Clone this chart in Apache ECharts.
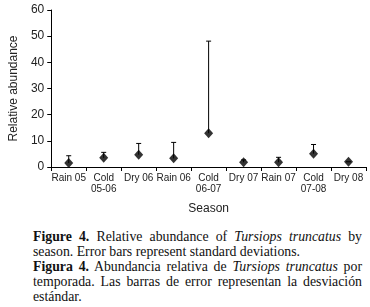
<!DOCTYPE html>
<html>
<head>
<meta charset="utf-8">
<script src="https://cdn.jsdelivr.net/npm/echarts@6/dist/echarts.min.js"></script>
<style>
  html, body { margin: 0; padding: 0; background: #fff; }
  #wrap { position: relative; width: 370px; height: 307px; overflow: hidden; }
  #main { position: absolute; left: 0; top: 0; width: 370px; height: 220px; }
  #cap {
    position: absolute; left: 33px; top: 229px; width: 329px;
    font-family: "Liberation Serif", "DejaVu Serif", serif;
    font-size: 13.8px; line-height: 15px; color: #111; text-align: justify;
  }
  #cap p { margin: 0; }
</style>
</head>
<body>
<div id="wrap">
  <div id="main"></div>
  <div id="cap">
    <p><b>Figure 4.</b> Relative abundance of <i>Tursiops truncatus</i> by season. Error bars represent standard deviations.</p>
    <p><b>Figura 4.</b> Abundancia relativa de <i>Tursiops truncatus</i> por temporada. Las barras de error representan la desviación estándar.</p>
  </div>
</div>
<script>
// seasons and values
var seasons = ['Rain 05', 'Cold\n05-06', 'Dry 06', 'Rain 06', 'Cold\n06-07', 'Dry 07', 'Rain 07', 'Cold\n07-08', 'Dry 08'];
var meanAbund = [1.5, 3.5, 4.7, 3.3, 12.9, 1.8, 1.8, 5.1, 2.0];
var sdAbund = [2.8, 2.1, 4.3, 6.1, 35.2, 0.9, 1.9, 3.5, 0];
var yTicks = [0, 10, 20, 30, 40, 50, 60];

var myChart = echarts.init(document.getElementById('main'));

var errData = [];
for (var i = 0; i < seasons.length; i++) {
    errData.push([i, meanAbund[i], meanAbund[i] + sdAbund[i]]);
}

var option = {
    animation: false,
    grid: { left: 41, right: 4, top: 10, height: 158 },
    textStyle: { fontFamily: 'Liberation Sans, Arial, sans-serif' },
    xAxis: {
        type: 'category',
        data: seasons,
        name: 'Season',
        nameLocation: 'middle',
        nameGap: 36,
        nameTextStyle: { fontSize: 12, color: '#222' },
        axisLine: { lineStyle: { color: '#000', width: 1 } },
        axisTick: { show: true, length: 4, lineStyle: { color: '#000' } },
        axisLabel: { interval: 0, fontSize: 10, color: '#222', margin: 6, lineHeight: 11 },
        splitLine: { show: false }
    },
    yAxis: {
        type: 'value',
        min: yTicks[0],
        max: yTicks[yTicks.length - 1],
        interval: 10,
        name: 'Relative abundance',
        nameLocation: 'middle',
        nameGap: 29,
        nameTextStyle: { fontSize: 12, color: '#222' },
        axisLine: { show: true, lineStyle: { color: '#000', width: 1 } },
        axisTick: { show: true, length: 4, lineStyle: { color: '#000' } },
        axisLabel: { fontSize: 12, color: '#222', margin: 7 },
        splitLine: { show: false }
    },
    series: [
        {
            // upper error bars
            type: 'custom',
            data: errData,
            z: 1,
            renderItem: function (params, api) {
                var lo = api.coord([api.value(0), api.value(1)]);
                var hi = api.coord([api.value(0), api.value(2)]);
                var st = { stroke: '#000', lineWidth: 1 };
                return {
                    type: 'group',
                    children: [
                        { type: 'line', shape: { x1: lo[0], y1: lo[1], x2: hi[0], y2: hi[1] }, style: st },
                        { type: 'line', shape: { x1: hi[0] - 2.5, y1: hi[1], x2: hi[0] + 2.5, y2: hi[1] }, style: st }
                    ]
                };
            }
        },
        {
            type: 'scatter',
            data: meanAbund,
            symbol: 'diamond',
            symbolSize: [9, 10],
            z: 2,
            itemStyle: { color: '#000' }
        }
    ]
};

myChart.setOption(option);
</script>
</body>
</html>
